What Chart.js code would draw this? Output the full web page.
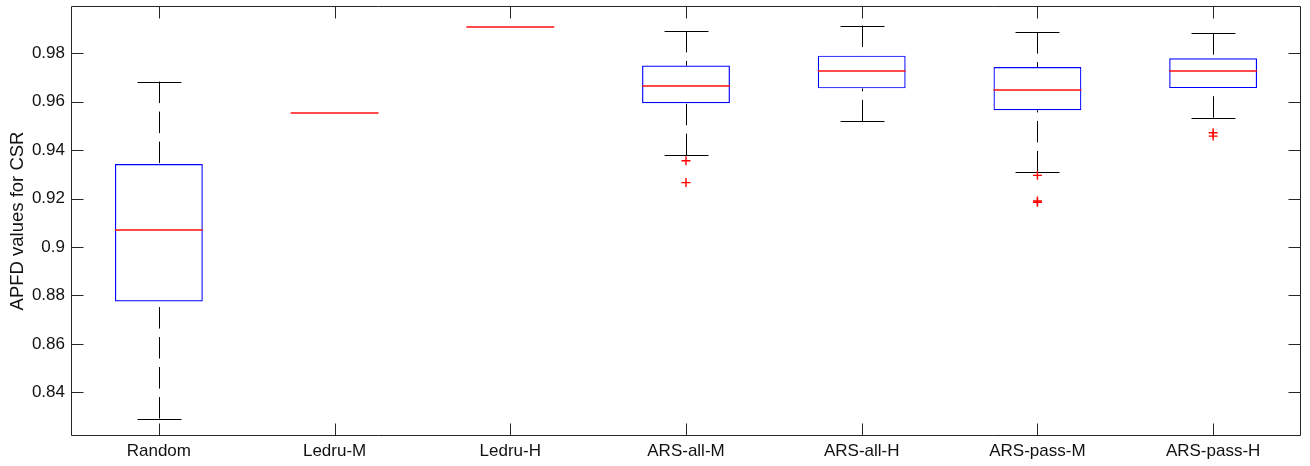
<!DOCTYPE html>
<html>
<head>
<meta charset="utf-8">
<title>APFD values for CSR</title>
<script src="https://cdn.jsdelivr.net/npm/chart.js@4/dist/chart.umd.min.js"></script>
<style>
  html, body { margin: 0; padding: 0; background: #fff; }
  #wrap { width: 1310px; height: 466px; }
</style>
</head>
<body>
<div id="wrap"><canvas id="chart"></canvas></div>
<script>
// values
const categories = ['Random', 'Ledru-M', 'Ledru-H', 'ARS-all-M', 'ARS-all-H', 'ARS-pass-M', 'ARS-pass-H'];
const whiskerLow  = [0.8292, 0.9554, 0.9908, 0.9379, 0.9519, 0.9308, 0.9534];
const q1          = [0.8775, 0.9554, 0.9908, 0.9594, 0.9655, 0.9565, 0.9656];
const median      = [0.9072, 0.9554, 0.9908, 0.9666, 0.9728, 0.9647, 0.9728];
const q3          = [0.9343, 0.9554, 0.9908, 0.9749, 0.9790, 0.9743, 0.9779];
const whiskerHigh = [0.9683, 0.9554, 0.9908, 0.9892, 0.9914, 0.9887, 0.9883];
const outliers    = [[], [], [], [0.9356, 0.9266], [], [0.9296, 0.9190, 0.9185], [0.9472, 0.9458]];
const yTicks = [0.84, 0.86, 0.88, 0.9, 0.92, 0.94, 0.96, 0.98];
const yMin = 0.822;
const yMax = 0.9995;

const FONT = 'Liberation Sans, Arial, sans-serif';
const TICK_LEN = 12;

const outlierPoints = [];
outliers.forEach((list, i) => list.forEach(v => outlierPoints.push({ x: categories[i], y: v })));

// whiskers, caps and medians drawn through the chart's own scales
const boxParts = {
    id: 'boxParts',
    beforeDatasetsDraw(chart) {
        const { ctx, scales: { x, y } } = chart;
        const step = x.getPixelForValue(1) - x.getPixelForValue(0);
        ctx.save();
        ctx.strokeStyle = '#000';
        ctx.lineWidth = 1;
        categories.forEach((c, i) => {
            if (whiskerHigh[i] === whiskerLow[i]) return; // constant data: only the median shows
            const cx = Math.round(x.getPixelForValue(i)) + 0.5;
            // dashed whiskers, pattern starting at the cap
            ctx.setLineDash([21.5, 8.5]);
            ctx.beginPath();
            ctx.moveTo(cx, y.getPixelForValue(whiskerHigh[i]));
            ctx.lineTo(cx, y.getPixelForValue(q3[i]));
            ctx.moveTo(cx, y.getPixelForValue(whiskerLow[i]));
            ctx.lineTo(cx, y.getPixelForValue(q1[i]));
            ctx.stroke();
            // caps
            ctx.setLineDash([]);
            ctx.beginPath();
            [whiskerHigh[i], whiskerLow[i]].forEach(v => {
                const py = Math.round(y.getPixelForValue(v)) + 0.5;
                ctx.moveTo(cx - step / 8, py);
                ctx.lineTo(cx + step / 8, py);
            });
            ctx.stroke();
        });
        ctx.restore();
    },
    afterDatasetsDraw(chart) {
        const { ctx, scales: { x, y } } = chart;
        const step = x.getPixelForValue(1) - x.getPixelForValue(0);
        ctx.save();
        ctx.strokeStyle = '#ff1010';
        ctx.lineWidth = 1.4;
        ctx.beginPath();
        categories.forEach((c, i) => {
            const cx = x.getPixelForValue(i);
            const py = Math.round(y.getPixelForValue(median[i]));
            ctx.moveTo(cx - step / 4, py);
            ctx.lineTo(cx + step / 4, py);
        });
        ctx.stroke();
        ctx.restore();
    },
    afterDraw(chart) {
        const { ctx, chartArea: a, scales: { x, y } } = chart;
        const L = a.left + 0.5, R = a.right - 0.5, T = a.top + 0.5, B = a.bottom - 0.5;
        ctx.save();
        ctx.strokeStyle = '#262626';
        ctx.lineWidth = 1;
        ctx.beginPath();
        ctx.rect(L, T, R - L, B - T);
        x.ticks.forEach((t, i) => {
            const px = Math.round(x.getPixelForValue(i)) + 0.5;
            ctx.moveTo(px, B); ctx.lineTo(px, B - TICK_LEN);
            ctx.moveTo(px, T); ctx.lineTo(px, T + TICK_LEN);
        });
        y.ticks.forEach(t => {
            const py = Math.round(y.getPixelForValue(t.value)) + 0.5;
            ctx.moveTo(L, py); ctx.lineTo(L + TICK_LEN, py);
            ctx.moveTo(R, py); ctx.lineTo(R - TICK_LEN, py);
        });
        ctx.stroke();
        ctx.restore();
    }
};

new Chart(document.getElementById('chart'), {
    type: 'bar',
    data: {
        labels: categories,
        datasets: [{
            label: 'box',
            data: categories.map((c, i) => [q1[i], q3[i]]),
            backgroundColor: 'rgba(0,0,0,0)',
            borderColor: '#0000ff',
            borderWidth: 1.2,
            borderSkipped: false,
            categoryPercentage: 1,
            barPercentage: 0.5
        }, {
            type: 'line',
            label: 'outliers',
            data: outlierPoints,
            showLine: false,
            pointStyle: 'cross',
            pointRadius: 4.5,
            pointBorderColor: '#ff0000',
            pointBorderWidth: 1.4,
            borderColor: '#ff0000'
        }]
    },
    options: {
        responsive: true,
        maintainAspectRatio: false,
        animation: false,
        layout: { padding: { top: 6, right: 9, left: 0, bottom: 0 } },
        plugins: { legend: { display: false }, tooltip: { enabled: false } },
        scales: {
            x: {
                grid: { display: false, drawTicks: false },
                border: { display: false },
                ticks: { color: '#111', padding: 5, font: { family: FONT, size: 17 } },
                afterFit(s) { s.height = 30; s.paddingLeft = 0; s.paddingRight = 0; }
            },
            y: {
                min: yMin,
                max: yMax,
                grid: { display: false, drawTicks: false },
                border: { display: false },
                afterBuildTicks(s) { s.ticks = yTicks.map(v => ({ value: v })); },
                ticks: {
                    color: '#111',
                    padding: 6,
                    font: { family: FONT, size: 17 },
                    callback: v => String(Number(v.toFixed(2)))
                },
                title: {
                    display: true,
                    text: 'APFD values for CSR',
                    color: '#111',
                    font: { family: FONT, size: 18.5 },
                    padding: { top: 7, bottom: 0 }
                },
                afterFit(s) { s.width = 71; s.paddingTop = 0; s.paddingBottom = 0; }
            }
        }
    },
    plugins: [boxParts]
});
</script>
</body>
</html>
